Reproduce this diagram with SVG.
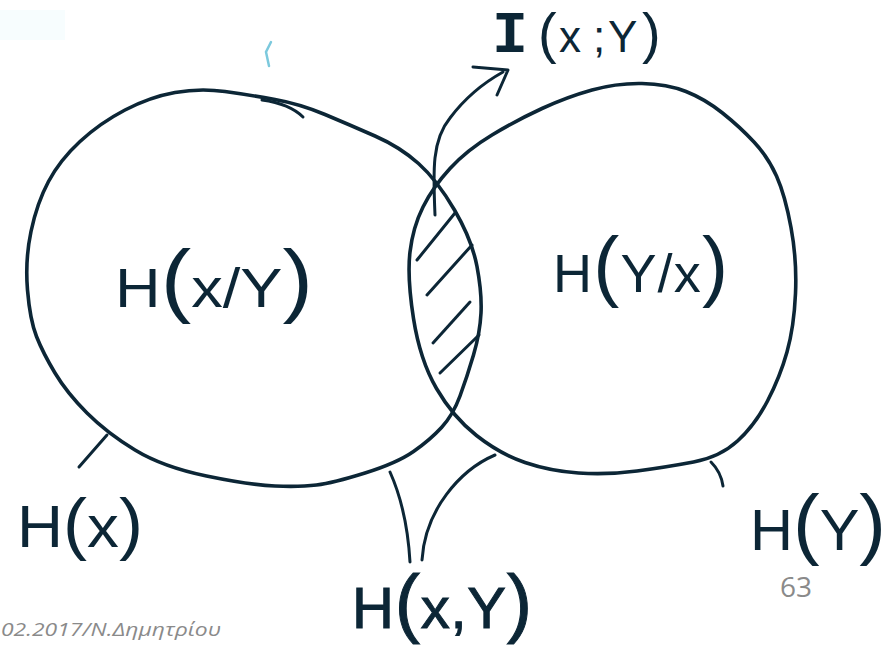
<svg xmlns="http://www.w3.org/2000/svg" width="893" height="653" viewBox="0 0 893 653">
<style>
.ink{fill:none;stroke:#0c2636;stroke-width:3.6;stroke-linecap:round;stroke-linejoin:round}
.thin{fill:none;stroke:#0c2636;stroke-width:3;stroke-linecap:round;stroke-linejoin:round}
.hw{font-family:"Liberation Sans","DejaVu Sans",sans-serif;fill:#0c2636}
.p{font-size:1.45em}
.gray{font-family:"Open Sans","Liberation Sans",sans-serif;fill:#8a8a8a}
</style>
<rect width="893" height="653" fill="#ffffff"/>
<rect x="0" y="10" width="65" height="30" fill="#e9f8fc" opacity="0.35"/>
<path d="M271,42 L266,52 L269,66" fill="none" stroke="#7cc9dd" stroke-width="2.5" stroke-linecap="round"/>

<g id="set-x">
<path class="ink" d="M175,92.5 Q150,97 125,110 Q100,123 80,141.5 Q60,160 48.5,181.5 Q37,203 31,231.5 Q25,260 27.5,290 Q30,320 36.5,336.5 Q43,353 55,373 Q67,393 87,413 Q107,433 135,450 Q163,467 206.5,476 Q250,485 275,486 Q300,487 316.5,485 Q333,483 365,473 Q397,463 413.5,451.5 Q430,440 441.5,427.5 Q453,415 460,396 Q467,377 473.5,355 Q480,333 481,313 Q482,293 477,266.5 Q472,240 454.5,210 Q437,180 418.5,163.5 Q400,147 375,136 Q350,125 325,114.5 Q300,104 275,99.5 Q250,95 225,91.5 Q200,88 175,92.5 Z"/>
<path class="thin" d="M262,100 Q290,104 303,117"/>
<text class="hw" x="115" y="307" font-size="56" textLength="198" lengthAdjust="spacingAndGlyphs">H<tspan class="p">(</tspan>x/Y<tspan class="p">)</tspan></text>
</g>

<g id="set-y">
<path class="ink" d="M642,83.5 Q667,84 686,91.5 Q705,99 722.5,113 Q740,127 754,142 Q768,157 776.5,176 Q785,195 791,227.5 Q797,260 795.5,293.5 Q794,327 787,352 Q780,377 767.5,401 Q755,425 737.5,441 Q720,457 693.5,462 Q667,467 637,471 Q607,475 578.5,473 Q550,471 525,462.5 Q500,454 476.5,435.5 Q453,417 436.5,388.5 Q420,360 413.5,318.5 Q407,277 410,252 Q413,227 423,207 Q433,187 450,168.5 Q467,150 492,135 Q517,120 542,108.5 Q567,97 592,90 Q617,83 642,83.5 Z"/>
<text class="hw" x="553" y="292" font-size="54" textLength="175" lengthAdjust="spacing">H<tspan class="p">(</tspan>Y/x<tspan class="p">)</tspan></text>
</g>

<g id="intersection">
<g class="thin">
<path d="M417,260 L455,213"/>
<path d="M427,295 L472,245"/>
<path d="M433,343 L470,302"/>
<path d="M440,373 L479,335"/>
</g>
<text class="hw" y="52" font-size="44"><tspan x="492" font-family="Liberation Mono,monospace" font-size="60" font-weight="bold">I</tspan><tspan x="538" font-size="56">(</tspan><tspan x="559">x</tspan><tspan x="593">;</tspan><tspan x="608">Y</tspan><tspan x="642" font-size="56">)</tspan></text>
</g>

<g id="label-hx">
<text class="hw" x="17" y="547" font-size="60" textLength="126" lengthAdjust="spacingAndGlyphs">H<tspan font-size="68">(</tspan>x<tspan font-size="68">)</tspan></text>
</g>
<g id="label-hy">
<text class="hw" x="750" y="550" font-size="58" textLength="136" lengthAdjust="spacingAndGlyphs">H<tspan font-size="78">(</tspan>Y<tspan font-size="78">)</tspan></text>
</g>
<g id="label-hxy">
<text class="hw" x="352" y="628" font-size="58" textLength="180" lengthAdjust="spacing" stroke="#0c2636" stroke-width="1">H<tspan font-size="76">(</tspan>x,Y<tspan font-size="76">)</tspan></text>
</g>

<g id="connectors">
<path class="thin" d="M435,215 C433,170 432,140 450,118 C465,98 485,82 503,72"/>
<path class="thin" d="M473,67 L508,70 L497,95"/>
<path class="thin" d="M107,435 L79,467"/>
<path class="thin" d="M711,462 Q721,472 723,486"/>
<path class="thin" d="M390,472 Q407,510 410,562"/>
<path class="thin" d="M495,455 C460,470 425,510 422,560"/>
</g>

<text class="gray" x="780" y="597" font-size="28">63</text>
<text class="gray" x="1" y="636" font-size="19" font-style="italic" textLength="220" lengthAdjust="spacingAndGlyphs">02.2017/Ν.Δημητρίου</text>
</svg>
